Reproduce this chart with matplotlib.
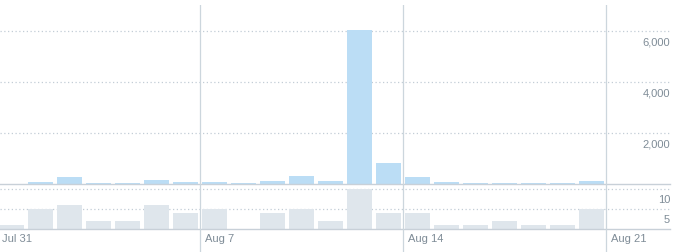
import numpy as np
import matplotlib
matplotlib.use('Agg')
import matplotlib.pyplot as plt

plt.rcParams['font.family'] = ['Liberation Sans', 'DejaVu Sans']

# daily values, Jul 31 .. Aug 21
days = np.arange(22)
impressions = [15, 90, 290, 50, 50, 170, 90, 90, 50, 130, 340, 130, 6060, 835,
               295, 90, 50, 50, 50, 50, 130, 15]
engagements = [1, 5, 6, 2, 2, 6, 4, 5, 0, 4, 5, 2, 10, 4,
               4, 1, 1, 2, 1, 1, 5, 0]
week_ticks = [0, 7, 14, 21]
week_labels = ['Jul 31', 'Aug 7', 'Aug 14', 'Aug 21']
top_ticks = [2000, 4000, 6000]
bottom_ticks = [5, 10]

blue = '#BBDDF5'
gray_bar = '#DFE6EC'
grid_c = '#C3CDD6'
line_c = '#CCD6DD'
text_c = '#7F8C97'

W, H = 683, 252
fig = plt.figure(figsize=(W / 100, H / 100), dpi=100)

xmin = -0.5 + 2.7 / 29
xmax = 6.5 + (670 - 200.3) / 29
right = 670 / W

ax_top = fig.add_axes([0, (H - 184.3) / H, right, (184.3 - 5) / H])
ax_bot = fig.add_axes([0, (H - 229.3) / H, right, (229.3 - 186) / H])
ax_over = fig.add_axes([0, 0, right, (H - 5) / H])

ax_top.bar(days, impressions, width=0.86, color=blue, zorder=2)
ax_top.set_ylim(0, (184.3 - 5) / 25.5 * 1000)
ax_bot.bar(days, engagements, width=0.86, color=gray_bar, zorder=2)
ax_bot.set_ylim(0, (229.3 - 186) / 4)

for ax, ticks in [(ax_top, top_ticks), (ax_bot, bottom_ticks)]:
    ax.set_xlim(xmin, xmax)
    ax.axis('off')
    for t in ticks:
        ax.axhline(t, color=grid_c, lw=0.9, ls=(0, (1, 2)), zorder=1)
        ax.annotate(f'{t:,}', xy=(1.0, t), xycoords=ax.get_yaxis_transform(),
                    xytext=(0, -11), textcoords='offset pixels',
                    ha='right', va='center', fontsize=8, color=text_c)
    ax.axhline(0, color='#C8D0D8', lw=1.0, zorder=3, clip_on=False)

ax_over.set_xlim(xmin, xmax)
ax_over.set_ylim(0, 1)
ax_over.axis('off')
ax_over.patch.set_alpha(0)
for d, lab in zip(week_ticks, week_labels):
    ax_over.axvline(d - 0.5, color=line_c, lw=0.9, zorder=4)
    ax_over.annotate(lab, xy=(d - 0.5, (H - 239) / (H - 5)),
                     xytext=(5, 0), textcoords='offset pixels',
                     ha='left', va='center', fontsize=8, color=text_c,
                     annotation_clip=False)

fig.savefig('out.png', dpi=100)
